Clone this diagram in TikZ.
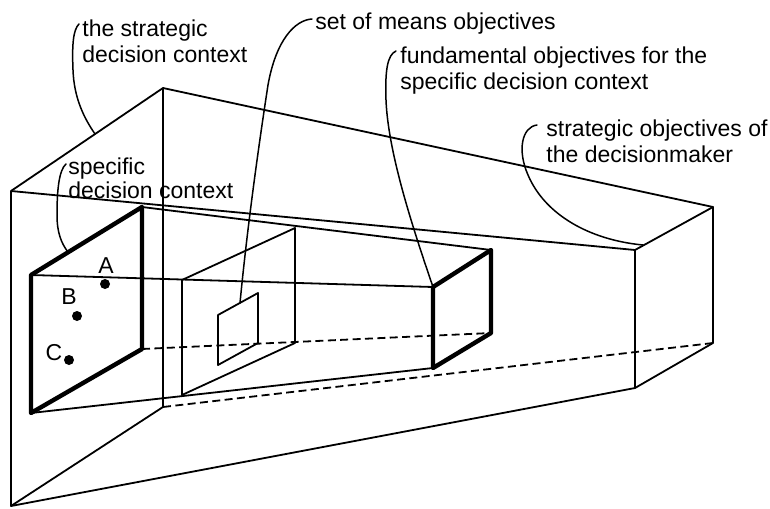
\documentclass[tikz,border=0pt]{standalone}
\usepackage{fontspec}
\setmainfont{Liberation Sans}
\usetikzlibrary{positioning}

\begin{document}
\begin{tikzpicture}[
        x=0.5pt, y=-0.5pt,
        edge/.style={line width=0.9pt, line join=round},
        bold/.style={line width=2.2pt, line join=round},
        hidden/.style={line width=0.9pt, dash pattern=on 4pt off 2.2pt},
        leader/.style={line width=0.75pt, line cap=round},
        lbl/.style={font=\fontsize{11.5}{13}\selectfont, align=left, inner sep=0pt, anchor=north west},
        dot/.style={circle, fill, inner sep=0pt, minimum size=5pt},
    ]
        \useasboundingbox (0,0) rectangle (770,508);

        % Outer frustum: strategic decision context
        \coordinate (f1) at (11,191);
        \coordinate (f2) at (163,88);
        \coordinate (f3) at (163,407);
        \coordinate (f4) at (11,506);
        \coordinate (b1) at (635,250);
        \coordinate (b2) at (713,207);
        \coordinate (b3) at (713,343);
        \coordinate (b4) at (635,388);

        % Inner box: specific decision context
        \coordinate (i1) at (31,275);
        \coordinate (i2) at (142,207);
        \coordinate (i3) at (142,349);
        \coordinate (i4) at (31,413);
        \coordinate (j1) at (433,287);
        \coordinate (j2) at (491,250);
        \coordinate (j3) at (491,333);
        \coordinate (j4) at (433,368);

        % Section and means objectives
        \coordinate (m1) at (182,280);
        \coordinate (m2) at (295,228);
        \coordinate (m3) at (295,343);
        \coordinate (m4) at (182,395);
        \coordinate (s1) at (218,315);
        \coordinate (s2) at (258,293);
        \coordinate (s3) at (258,343);
        \coordinate (s4) at (218,365);

        % Outer frustum edges
        \draw[edge] (f1) -- (f2) -- (f3) -- (f4) -- cycle;
        \draw[edge] (b1) -- (b2) -- (b3) -- (b4) -- cycle;
        \draw[edge] (f1) -- (b1) (f2) -- (b2) (f4) -- (b4);
        \draw[hidden] (f3) -- (b3);

        % Inner box edges
        \draw[edge] (i1) -- (j1) (i2) -- (j2) (i4) -- (j4);
        \draw[hidden] (i3) -- (j3);
        \draw[bold] (i1) -- (i2) -- (i3) -- (i4) -- cycle;
        \draw[bold] (j1) -- (j2) -- (j3) -- (j4) -- cycle;

        % Section with means objectives
        \draw[edge] (m1) -- (m2) -- (m3) -- (m4) -- cycle;
        \draw[edge] (s1) -- (s2) -- (s3) -- (s4) -- cycle;

        % Alternatives
        \node[dot] (ptA) at (105,284) {};
        \node[dot] (ptB) at (77,316) {};
        \node[dot] (ptC) at (69,360) {};
        \node[font=\fontsize{11.5}{13}\selectfont, inner sep=0pt] (lblA) at (106,266) {A};
        \node[font=\fontsize{11.5}{13}\selectfont, inner sep=0pt] (lblB) at (69,297) {B};
        \node[font=\fontsize{11.5}{13}\selectfont, inner sep=0pt] (lblC) at (54,353) {C};

        % Labels
        \node[lbl] (strat) at (82,19) {the strategic\\decision context};
        \node[lbl, font=\fontsize{11.5}{12}\selectfont] (spec) at (68,157) {specific\\decision context};
        \node[lbl] (means) at (315,12) {set of means objectives};
        \node[lbl] (fund) at (400,46) {fundamental objectives for the\\specific decision context};
        \node[lbl] (sobj) at (546,119) {strategic objectives of\\the decisionmaker};

        % Leader lines
        \coordinate (tStrat) at (95,134);
        \coordinate (tSpec) at (68,252);
        \coordinate (tMeans) at (240,303);
        \coordinate (tFund) at (433,287);
        \coordinate (tSobj) at (643,245);

        \draw[leader] (79,24) .. controls (73,30) and (72,45) .. (73,70) .. controls (74,98) and (84,118) .. (tStrat);
        \draw[leader] (66,164) .. controls (59,170) and (57,190) .. (57,215) .. controls (57,232) and (61,243) .. (tSpec);
        \draw[leader] (312,19) .. controls (295,20) and (276,40) .. (268,85) .. controls (258,150) and (247,230) .. (tMeans);
        \draw[leader] (396,51) .. controls (387,55) and (385,72) .. (386,100) .. controls (388,150) and (410,220) .. (tFund);
        \draw[leader] (537,125) .. controls (522,127) and (517,150) .. (528,175) .. controls (545,215) and (590,240) .. (tSobj);
    \end{tikzpicture}
\end{document}
